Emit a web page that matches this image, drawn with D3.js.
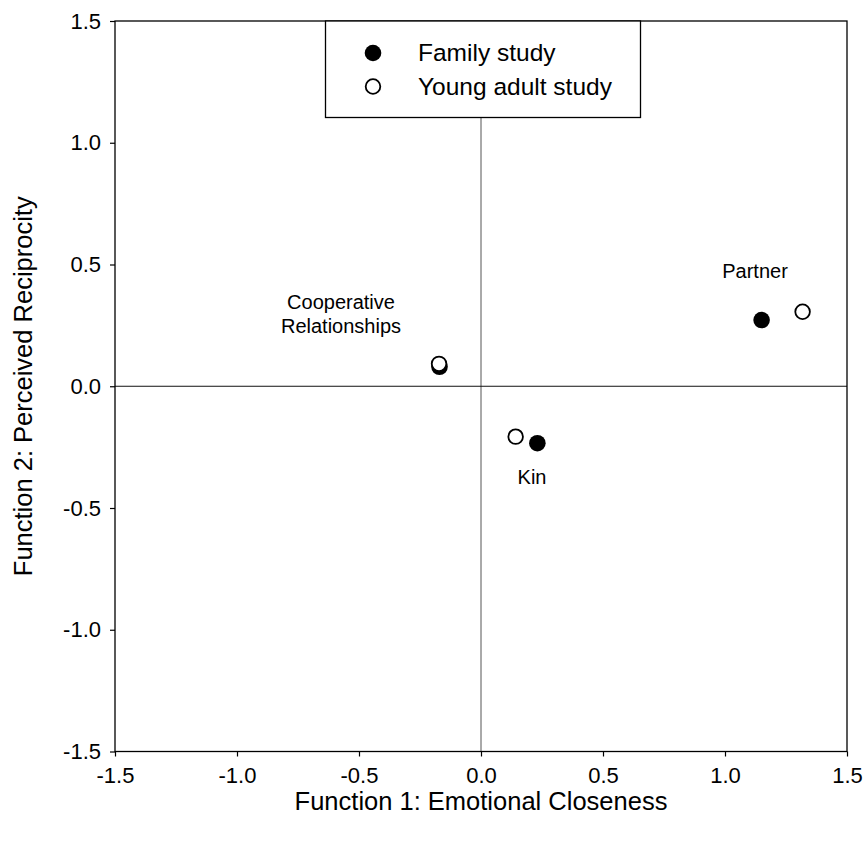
<!DOCTYPE html>
<html><head><meta charset="utf-8">
<script src="https://cdn.jsdelivr.net/npm/d3@7"></script>
<style>body{margin:0;background:#fff}svg{display:block}text{font-family:"Liberation Sans",Arial,sans-serif;fill:#000}</style>
</head><body>
<script>
const categories = ["Partner", "Cooperative Relationships", "Kin"];
const familyX = [1.150, -0.170, 0.231];
const familyY = [0.272, 0.080, -0.234];
const youngX = [1.318, -0.172, 0.142];
const youngY = [0.306, 0.092, -0.207];
const tickValues = [-1.5, -1.0, -0.5, 0.0, 0.5, 1.0, 1.5];
const tickLabels = ["-1.5", "-1.0", "-0.5", "0.0", "0.5", "1.0", "1.5"];
const seriesNames = ["Family study", "Young adult study"];

const W = 866, H = 843;
const FONT = '"Liberation Sans",Arial,sans-serif';
const svg = d3.select("body").append("svg").attr("width", W).attr("height", H);
const x = d3.scaleLinear().domain([-1.5, 1.5]).range([115, 847]);
const y = d3.scaleLinear().domain([-1.5, 1.5]).range([751.5, 21]);

// zero lines
svg.append("line").attr("x1", x(0)).attr("x2", x(0)).attr("y1", y(1.5)).attr("y2", y(-1.5)).attr("stroke", "#555").attr("stroke-width", 1);
svg.append("line").attr("x1", x(-1.5)).attr("x2", x(1.5)).attr("y1", y(0)).attr("y2", y(0)).attr("stroke", "#111").attr("stroke-width", 1);

// frame
svg.append("rect").attr("x", x(-1.5)).attr("y", y(1.5)).attr("width", x(1.5)-x(-1.5)).attr("height", y(-1.5)-y(1.5))
  .attr("fill", "none").attr("stroke", "#000").attr("stroke-width", 1.3);

const lab = d => tickLabels[tickValues.indexOf(d)];
const xAxis = svg.append("g").attr("transform", `translate(0,${y(-1.5)})`)
  .call(d3.axisBottom(x).tickValues(tickValues).tickFormat(lab).tickSize(5).tickPadding(11));
const yAxis = svg.append("g").attr("transform", `translate(${x(-1.5)},0)`)
  .call(d3.axisLeft(y).tickValues(tickValues).tickFormat(lab).tickSize(5).tickPadding(9));
[xAxis, yAxis].forEach(a => {
  a.select(".domain").remove();
  a.selectAll("line").attr("stroke", "#000").attr("stroke-width", 1.2);
  a.selectAll("text").attr("font-size", 22).style("font-family", FONT).attr("fill", "#000");
});

// axis titles
svg.append("text").attr("x", x(0)).attr("y", 810).attr("text-anchor", "middle").attr("font-size", 25.5)
  .text("Function 1: Emotional Closeness");
svg.append("text").attr("transform", `translate(32,${y(0)}) rotate(-90)`).attr("text-anchor", "middle").attr("font-size", 25.5)
  .text("Function 2: Perceived Reciprocity");

// points
const fam = familyX.map((v, i) => ({x: v, y: familyY[i]}));
const yng = youngX.map((v, i) => ({x: v, y: youngY[i]}));
svg.selectAll(".fam").data(fam).enter().append("circle")
  .attr("cx", d => x(d.x)).attr("cy", d => y(d.y)).attr("r", 8.3).attr("fill", "#000");
svg.selectAll(".yng").data(yng).enter().append("circle")
  .attr("cx", d => x(d.x)).attr("cy", d => y(d.y)).attr("r", 7.3).attr("fill", "#fff").attr("stroke", "#000").attr("stroke-width", 1.8);

// labels
svg.append("text").attr("x", 755).attr("y", 278).attr("text-anchor", "middle").attr("font-size", 20).text(categories[0]);
const coop = svg.append("text").attr("y", 309).attr("text-anchor", "middle").attr("font-size", 20);
coop.append("tspan").attr("x", 341).text("Cooperative");
coop.append("tspan").attr("x", 341).attr("dy", 24).text("Relationships");
svg.append("text").attr("x", 532).attr("y", 484).attr("text-anchor", "middle").attr("font-size", 20).text(categories[2]);

// legend
svg.append("rect").attr("x", 325.5).attr("y", 21).attr("width", 315).attr("height", 96.5)
  .attr("fill", "#fff").attr("stroke", "#000").attr("stroke-width", 1.3);
svg.append("circle").attr("cx", 373).attr("cy", 53).attr("r", 8.3).attr("fill", "#000");
svg.append("circle").attr("cx", 373).attr("cy", 86.5).attr("r", 7.3).attr("fill", "#fff").attr("stroke", "#000").attr("stroke-width", 1.8);
svg.append("text").attr("x", 418).attr("y", 61).attr("font-size", 24.5).text(seriesNames[0]);
svg.append("text").attr("x", 418).attr("y", 95).attr("font-size", 24.5).text(seriesNames[1]);
</script>
</body></html>
